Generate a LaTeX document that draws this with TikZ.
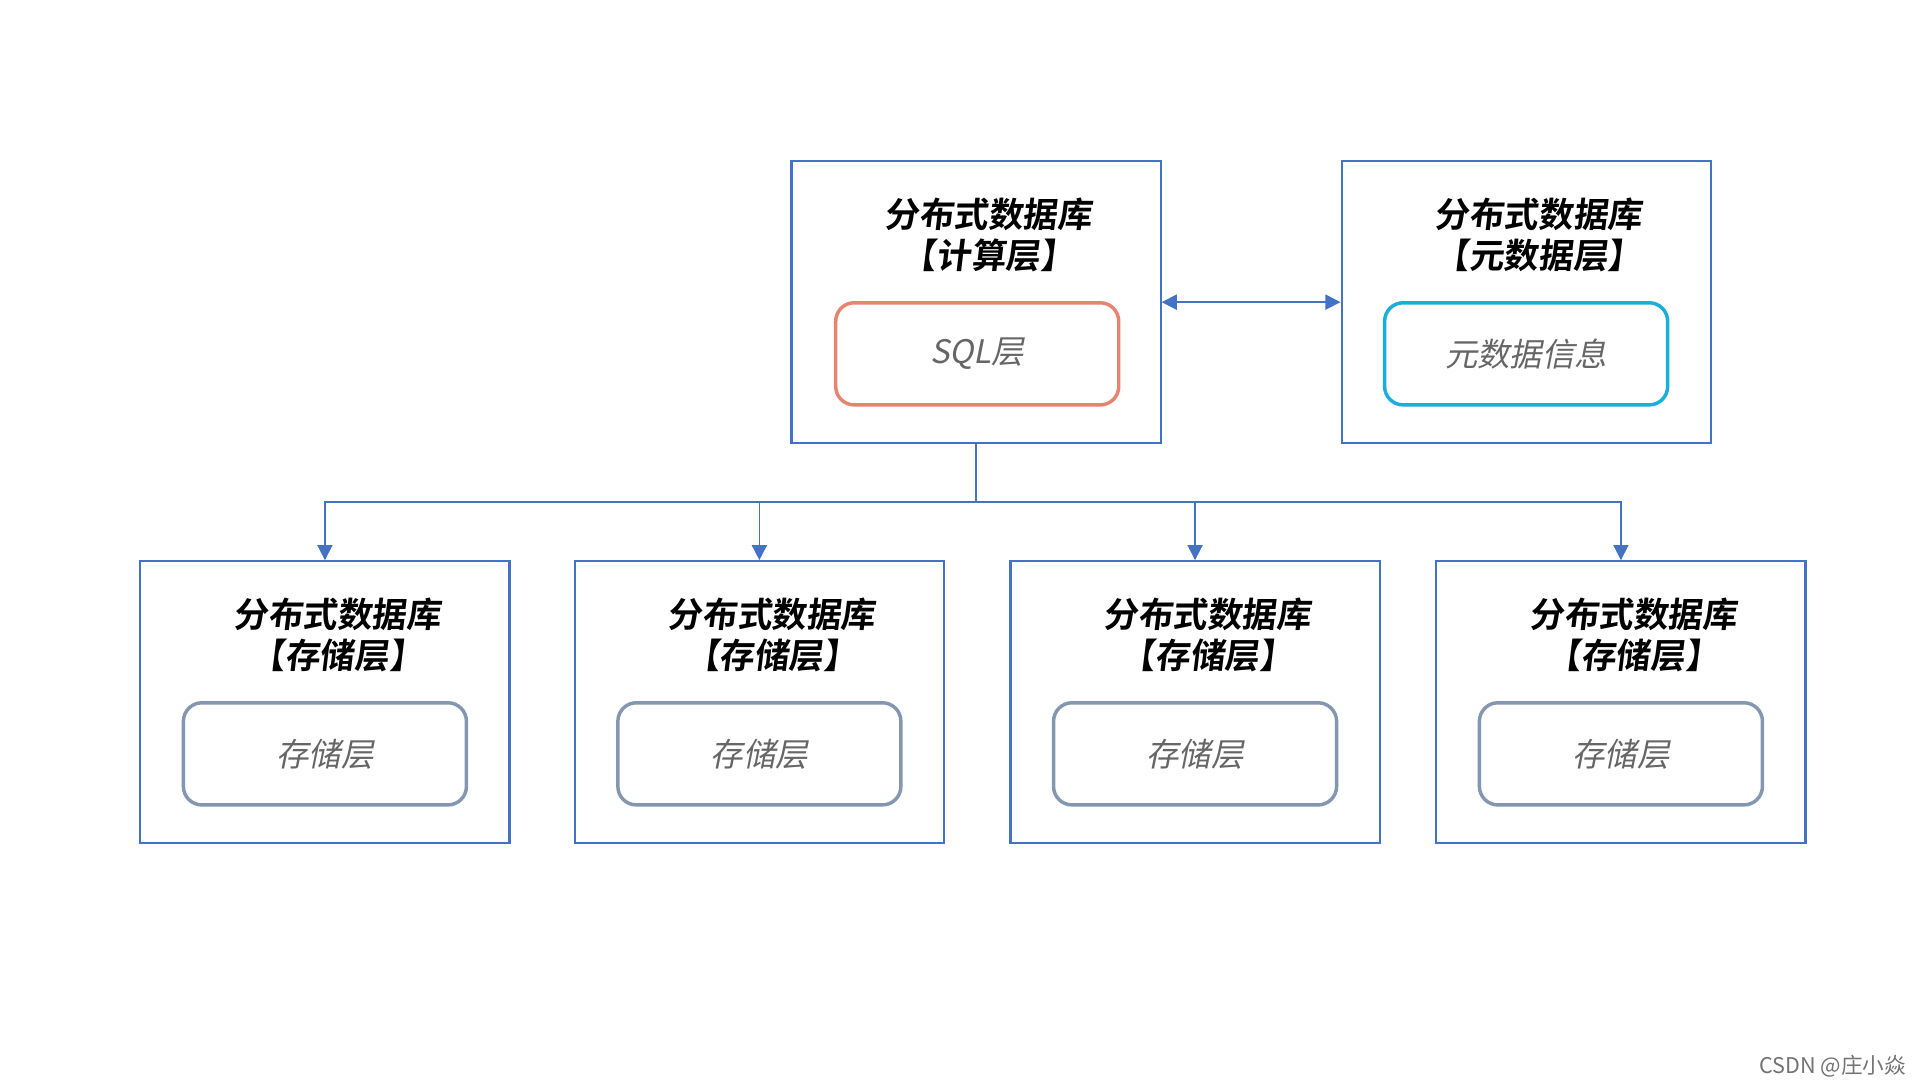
\documentclass[tikz,border=0pt]{standalone}
\usepackage{fontspec}
\setmainfont{Noto Sans CJK SC}
\newfontfamily\cjkit[FakeSlant=0.2]{Noto Sans CJK SC}
\newfontfamily\cjkbf[FakeSlant=0.12]{Noto Sans CJK SC Bold}
\usetikzlibrary{arrows.meta}
\definecolor{frameblue}{HTML}{4472C4}
\definecolor{sqlred}{HTML}{E8836F}
\definecolor{metacyan}{HTML}{1AAEDB}
\definecolor{storegray}{HTML}{8497B0}
\tikzset{
  layer/.style={draw=frameblue,line width=1pt,minimum width=6cm,minimum height=4.58cm},
  inner/.style={rounded corners=0.3cm,line width=1.6pt,minimum width=4.6cm,minimum height=1.66cm,
    font=\cjkit\fontsize{15}{17}\selectfont,text=black!60},
  title/.style={font=\cjkbf\fontsize{16}{19}\selectfont,align=center},
  link/.style={draw=frameblue,line width=0.8pt,-{Triangle[length=7pt,width=7pt]}}
}
\begin{document}
\begin{tikzpicture}[x=0.02cm,y=-0.02cm]
        \useasboundingbox (0,0) rectangle (1560,878);
        % upper layers
        \node[layer] (calc) at (793,245.5) {};
        \node[title] (calct) at (803,191) {分布式数据库\\【计算层】};
        \node[inner,draw=sqlred] (sql) at (794,287.5) {SQL层};
        \node[layer] (meta) at (1240,245.5) {};
        \node[title] (metat) at (1250,191) {分布式数据库\\【元数据层】};
        \node[inner,draw=metacyan] (metainfo) at (1240,287.5) {元数据信息};
        \draw[link,{Triangle[length=7pt,width=7pt]}-{Triangle[length=7pt,width=7pt]}] (calc.east) -- (meta.west);
        % storage layers
        \coordinate (split) at (793,408);
        \draw[draw=frameblue,line width=0.8pt] (calc.south) -- (split);
        \foreach \n/\x in {a/264,b/617,c/971,d/1317}{
          \node[layer] (store\n) at (\x,570.5) {};
          \node[title] (store\n t) at (\x+10,516) {分布式数据库\\【存储层】};
          \node[inner,draw=storegray] (store\n in) at (\x,612.5) {存储层};
          \draw[link] (split) -| (store\n.north);
        }
        \node[font=\fontsize{10}{12}\selectfont,text=black!55,anchor=east] (mark) at (1555,866) {CSDN @庄小焱};
    \end{tikzpicture}
\end{document}
